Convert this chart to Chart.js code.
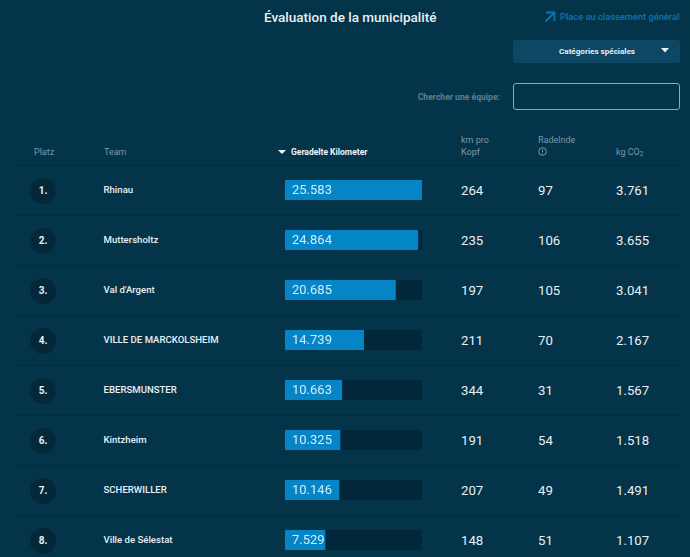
<!DOCTYPE html>
<html lang="fr">
<head>
<meta charset="utf-8">
<title>Évaluation de la municipalité</title>
<script src="https://cdn.jsdelivr.net/npm/chart.js@4"></script>
<style>
    html, body { margin: 0; padding: 0; }
    body {
        position: relative;
        width: 690px;
        height: 557px;
        overflow: hidden;
        background: #04344a;
        font-family: Roboto, sans-serif;
        color: #e8f0f4;
    }
    .t { position: absolute; white-space: nowrap; line-height: 14px; }
    .title { left: 264px; top: 10px; font-size: 13.5px; font-weight: 500; }
    .link { left: 560px; top: 10px; font-size: 9.3px; font-weight: 500; color: #0b74b4; }
    .drop { position: absolute; left: 513px; top: 40px; width: 167px; height: 23px; background: #0d4763; border-radius: 3px; }
    .drop-text { left: 559px; top: 44px; font-size: 8.1px; font-weight: 700; }
    .search-label { right: 190px; top: 90px; font-size: 8.6px; font-weight: 700; color: #5f7f8e; }
    .search { position: absolute; left: 513px; top: 83px; width: 165px; height: 25px; border: 1px solid #8fa9b5; border-radius: 3px; }
    .head { font-size: 9px; color: #7d98a5; }
    .head-active { font-size: 8.5px; font-weight: 700; color: #f0f5f7; }
    .line { position: absolute; left: 16px; width: 664px; height: 1px; background: #032c40; }
    .rank { position: absolute; left: 30px; width: 26px; height: 26px; line-height: 26px; border-radius: 50%; background: #04283a; text-align: center; font-size: 10px; font-weight: 700; }
    .team { left: 103.5px; font-size: 9.6px; font-weight: 500; }
    .num { font-size: 13.2px; font-weight: 400; }
    .val { left: 292px; font-size: 13px; color: #cdeefc; }
    sub { font-size: 6.5px; line-height: 0; vertical-align: -1px; }
    #chart-box { position: absolute; left: 285px; top: 165px; width: 137px; height: 400px; }
    svg { position: absolute; }
</style>
</head>
<body>
<div class="t title">Évaluation de la municipalité</div>
<svg style="left:544px;top:11px" width="12" height="12" viewBox="0 0 12 12"><path d="M2 1.5H10.5V10M10 2L1.5 10.5" fill="none" stroke="#0b74b4" stroke-width="1.8"/></svg>
<div class="t link">Place au classement général</div>
<div class="drop"></div>
<div class="t drop-text">Catégories spéciales</div>
<svg style="left:661px;top:48px" width="9" height="6" viewBox="0 0 9 6"><path d="M0 0H8L4 4.5Z" fill="#e8f0f4"/></svg>
<div class="t search-label">Chercher une équipe:</div>
<div class="search"></div>

<div class="t head" style="left:34px;top:145px">Platz</div>
<div class="t head" style="left:104px;top:145px">Team</div>
<svg style="left:278px;top:150px" width="9" height="5" viewBox="0 0 9 5"><path d="M0 0H8L4 4Z" fill="#f0f5f7"/></svg>
<div class="t head-active" style="left:291px;top:145px">Geradelte Kilometer</div>
<div class="t head" style="left:461px;top:133px">km pro</div>
<div class="t head" style="left:461px;top:145px">Kopf</div>
<div class="t head" style="left:538px;top:133px">Radelnde</div>
<svg style="left:538px;top:147px" width="9" height="9" viewBox="0 0 9 9"><circle cx="4.5" cy="4.5" r="3.8" fill="none" stroke="#7d98a5"/><path d="M4.5 2.5V5M4.5 5.8V6.8" stroke="#7d98a5"/></svg>
<div class="t head" style="left:616px;top:145px">kg CO<sub>2</sub></div>
<div class="line" style="top:165px"></div>

<div id="rows"></div>
<div id="chart-box"><canvas id="km-chart"></canvas></div>
<div id="labels"></div>

<script>
const ranks = ["1.", "2.", "3.", "4.", "5.", "6.", "7.", "8."];
const teams = ["Rhinau", "Muttersholtz", "Val d'Argent", "VILLE DE MARCKOLSHEIM", "EBERSMUNSTER", "Kintzheim", "SCHERWILLER", "Ville de Sélestat"];
const kilometers = [25583, 24864, 20685, 14739, 10663, 10325, 10146, 7529];
const kmPerHead = [264, 235, 197, 211, 344, 191, 207, 148];
const cyclists = [97, 106, 105, 70, 31, 54, 49, 51];
const co2 = [3761, 3655, 3041, 2167, 1567, 1518, 1491, 1107];

const formatNum = (n) => n.toLocaleString("de-DE");

// Table rows around the bars
const rows = document.getElementById("rows");
const labels = document.getElementById("labels");
let rowsHtml = "";
let labelsHtml = "";

teams.forEach((team, i) => {
    const mid = 190 + i * 50;
    rowsHtml += `
        <div class="rank" style="top:${mid - 12.5}px">${ranks[i]}</div>
        <div class="t team" style="top:${mid - 7}px">${team}</div>
        <div class="t num" style="left:461px;top:${mid - 6.5}px">${kmPerHead[i]}</div>
        <div class="t num" style="left:538px;top:${mid - 6.5}px">${cyclists[i]}</div>
        <div class="t num" style="left:616px;top:${mid - 6.5}px">${formatNum(co2[i])}</div>
        <div class="line" style="top:${mid + 25}px"></div>`;
    labelsHtml += `<div class="t val" style="top:${mid - 7}px">${formatNum(kilometers[i])}</div>`;
});
rows.innerHTML = rowsHtml;
labels.innerHTML = labelsHtml;

// Bars with dark track behind
const topValue = Math.max(...kilometers);

new Chart(document.getElementById("km-chart"), {
    type: "bar",
    data: {
        labels: teams,
        datasets: [
            {
                data: kilometers,
                backgroundColor: "#0685c6",
                barPercentage: 0.4,
                categoryPercentage: 1,
                order: 1
            },
            {
                data: teams.map(() => topValue),
                backgroundColor: "#03273a",
                barPercentage: 0.4,
                categoryPercentage: 1,
                order: 2
            }
        ]
    },
    options: {
        indexAxis: "y",
        responsive: true,
        maintainAspectRatio: false,
        animation: false,
        layout: { padding: 0 },
        datasets: { bar: { grouped: false } },
        scales: {
            x: { display: false, min: 0, max: topValue },
            y: { display: false }
        },
        plugins: {
            legend: { display: false },
            tooltip: { enabled: false }
        }
    }
});
</script>
</body>
</html>
